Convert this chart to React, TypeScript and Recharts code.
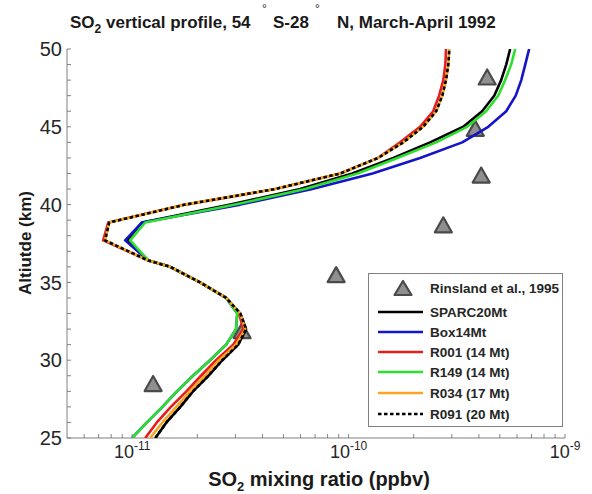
import React from 'react';
import { ScatterChart, Scatter, XAxis, YAxis, Legend } from 'recharts';

// Altitude levels (km)
const altitudes = [25, 26, 27, 28, 29, 30, 31, 32, 33, 34, 35, 36, 36.4, 37.7, 38.85, 40, 41, 42, 43, 44, 45, 46, 47, 48, 49, 50];

// SO2 mixing ratio (ppbv) per series at the altitude levels above
const sparc20Mt = [1.28e-11, 1.44e-11, 1.67e-11, 1.91e-11, 2.25e-11, 2.61e-11, 3.09e-11, 3.36e-11, 3.16e-11, 2.72e-11, 2.06e-11, 1.5e-11, 1.19e-11, 9.48e-12, 1.11e-11, 2.84e-11, 5.97e-11, 1.04e-10, 1.61e-10, 2.38e-10, 3.39e-10, 4.14e-10, 4.71e-10, 5.07e-10, 5.35e-10, 5.58e-10];
const box14Mt = [1.0e-11, 1.17e-11, 1.38e-11, 1.61e-11, 1.91e-11, 2.29e-11, 2.72e-11, 3.02e-11, 3.06e-11, 2.72e-11, 2.06e-11, 1.5e-11, 1.19e-11, 9.28e-12, 1.11e-11, 3.16e-11, 6.79e-11, 1.29e-10, 2.14e-10, 3.35e-10, 4.42e-10, 5.35e-10, 5.92e-10, 6.28e-10, 6.55e-10, 6.83e-10];
const r001 = [1.15e-11, 1.3e-11, 1.51e-11, 1.78e-11, 2.08e-11, 2.44e-11, 2.93e-11, 3.26e-11, 3.12e-11, 2.72e-11, 2.06e-11, 1.5e-11, 1.19e-11, 7.35e-12, 7.75e-12, 1.76e-11, 4.58e-11, 9.15e-11, 1.37e-10, 1.73e-10, 2.14e-10, 2.46e-10, 2.62e-10, 2.74e-10, 2.8e-10, 2.82e-10];
const r149 = [1.0e-11, 1.17e-11, 1.38e-11, 1.61e-11, 1.91e-11, 2.29e-11, 2.72e-11, 3.02e-11, 3.06e-11, 2.72e-11, 2.06e-11, 1.5e-11, 1.19e-11, 9.79e-12, 1.15e-11, 2.99e-11, 6.3e-11, 1.1e-10, 1.68e-10, 2.54e-10, 3.53e-10, 4.32e-10, 4.91e-10, 5.29e-10, 5.64e-10, 5.89e-10];
const r034 = [1.21e-11, 1.38e-11, 1.6e-11, 1.85e-11, 2.17e-11, 2.52e-11, 3.02e-11, 3.33e-11, 3.16e-11, 2.72e-11, 2.06e-11, 1.5e-11, 1.19e-11, 7.5e-12, 7.83e-12, 1.76e-11, 4.58e-11, 9.15e-11, 1.37e-10, 1.79e-10, 2.21e-10, 2.54e-10, 2.71e-10, 2.82e-10, 2.89e-10, 2.92e-10];
const r091 = [1.28e-11, 1.44e-11, 1.67e-11, 1.91e-11, 2.25e-11, 2.61e-11, 3.09e-11, 3.36e-11, 3.16e-11, 2.72e-11, 2.06e-11, 1.5e-11, 1.19e-11, 7.5e-12, 7.83e-12, 1.76e-11, 4.58e-11, 9.15e-11, 1.37e-10, 1.79e-10, 2.21e-10, 2.54e-10, 2.71e-10, 2.82e-10, 2.89e-10, 2.92e-10];

// Rinsland et al., 1995 observations
const rinslandAlt = [28.5, 31.9, 35.5, 38.7, 41.9, 44.9, 48.2];
const rinslandVal = [1.25e-11, 3.22e-11, 8.76e-11, 2.74e-10, 4.1e-10, 3.85e-10, 4.37e-10];

// Axis ticks
const xMajorTicks = [1e-11, 1e-10, 1e-9];
const xMajorExponents = ['-11', '-10', '-9'];
const xMinorTicks = [6e-12, 7e-12, 8e-12, 9e-12, 2e-11, 3e-11, 4e-11, 5e-11, 6e-11, 7e-11, 8e-11, 9e-11, 2e-10, 3e-10, 4e-10, 5e-10, 6e-10, 7e-10, 8e-10, 9e-10];
const xDomain = [5e-12, 1e-9];
const yMajorTicks = [25, 30, 35, 40, 45, 50];
const yMinorTicks = [26, 27, 28, 29, 31, 32, 33, 34, 36, 37, 38, 39, 41, 42, 43, 44, 46, 47, 48, 49];

const seriesDefs = [
  { name: 'SPARC20Mt', values: sparc20Mt, color: '#000000', dash: undefined as string | undefined },
  { name: 'Box14Mt', values: box14Mt, color: '#1414c8', dash: undefined },
  { name: 'R001 (14 Mt)', values: r001, color: '#e81c1c', dash: undefined },
  { name: 'R149 (14 Mt)', values: r149, color: '#2ee02e', dash: undefined },
  { name: 'R034 (17 Mt)', values: r034, color: '#f5a623', dash: undefined },
  { name: 'R091 (20 Mt)', values: r091, color: '#000000', dash: '3.5 2.5' },
];

const FONT = '"Liberation Sans", Arial, Helvetica, sans-serif';
const AXIS = '#808080';
const TXT = '#262626';

const xAll = [...xMinorTicks, ...xMajorTicks].sort((a, b) => a - b);
const yAll = [...yMinorTicks, ...yMajorTicks].sort((a, b) => a - b);

const majorIndexX = (v: number) => xMajorTicks.findIndex((m) => Math.abs(m - v) / m < 1e-6);

const BottomTick = (props: any) => {
  const { x, y, payload } = props;
  const idx = majorIndexX(payload.value);
  return (
    <g>
      <line x1={x} y1={y} x2={x} y2={y - 4} stroke={AXIS} strokeWidth={1} />
      {idx >= 0 && (
        <text x={x} y={y + 20} textAnchor="middle" fontFamily={FONT} fontSize={18} fill={TXT}>
          10
          <tspan dy={-8} fontSize={12}>{xMajorExponents[idx]}</tspan>
        </text>
      )}
    </g>
  );
};

const TopTick = (props: any) => {
  const { x, y } = props;
  return <line x1={x} y1={y} x2={x} y2={y + 4} stroke={AXIS} strokeWidth={1} />;
};

const LeftTick = (props: any) => {
  const { x, y, payload } = props;
  const major = yMajorTicks.includes(payload.value);
  return (
    <g>
      <line x1={x} y1={y} x2={x + 4} y2={y} stroke={AXIS} strokeWidth={1} />
      {major && (
        <text x={x - 5} y={y} dy="0.36em" textAnchor="end" fontFamily={FONT} fontSize={20} fill={TXT}>
          {payload.value}
        </text>
      )}
    </g>
  );
};

const RightTick = (props: any) => {
  const { x, y } = props;
  return <line x1={x} y1={y} x2={x - 4} y2={y} stroke={AXIS} strokeWidth={1} />;
};

const NoShape = () => <g />;

const Triangle = (props: any) => {
  const { cx, cy } = props;
  if (cx == null || cy == null) return <g />;
  const w = 17;
  const h = 15;
  return (
    <polygon
      points={`${cx - w / 2},${cy + h / 2} ${cx + w / 2},${cy + h / 2} ${cx},${cy - h / 2}`}
      fill="#8f8f8f"
      stroke="#4a4a4a"
      strokeWidth={2.2}
      strokeLinejoin="round"
    />
  );
};

const LegendBox = () => {
  const rows = [39, 59, 79, 99, 120, 141];
  return (
    <svg width={196} height={156} style={{ display: 'block' }}>
      <rect x={0.5} y={0.5} width={194} height={153} fill="#ffffff" stroke={AXIS} strokeWidth={1} />
      <polygon points="26.5,22 43.5,22 35,8" fill="#8f8f8f" stroke="#4a4a4a" strokeWidth={2.2} strokeLinejoin="round" />
      <text x={62} y={15} dy="0.36em" fontFamily={FONT} fontWeight="bold" fontSize={13.5} fill={TXT}>
        Rinsland et al., 1995
      </text>
      {seriesDefs.map((s, i) => (
        <g key={s.name}>
          <line x1={10} x2={55} y1={rows[i]} y2={rows[i]} stroke={s.color} strokeWidth={2.5} strokeDasharray={s.dash} />
          <text x={62} y={rows[i]} dy="0.36em" fontFamily={FONT} fontWeight="bold" fontSize={13.5} fill={TXT}>
            {s.name}
          </text>
        </g>
      ))}
    </svg>
  );
};

export default function App() {
  const rinsland = rinslandAlt.map((a, i) => ({ x: rinslandVal[i], y: a }));
  const series = seriesDefs.map((s) => ({
    ...s,
    data: altitudes.map((a, i) => ({ x: s.values[i], y: a })),
  }));

  return (
    <div style={{ position: 'absolute', left: 0, top: 0, width: 592, height: 494, background: '#ffffff' }}>
      <ScatterChart width={592} height={494} margin={{ top: 49, right: 27, bottom: 0, left: 0 }}>
        <XAxis
          xAxisId="b"
          type="number"
          dataKey="x"
          scale="log"
          domain={xDomain}
          allowDataOverflow
          ticks={xAll}
          interval={0}
          orientation="bottom"
          height={56}
          tickSize={0}
          tickMargin={0}
          tickLine={false}
          axisLine={{ stroke: AXIS }}
          tick={<BottomTick />}
        />
        <XAxis
          xAxisId="t"
          type="number"
          dataKey="x"
          scale="log"
          domain={xDomain}
          allowDataOverflow
          ticks={xAll}
          interval={0}
          orientation="top"
          height={0}
          tickSize={0}
          tickMargin={0}
          tickLine={false}
          axisLine={{ stroke: AXIS }}
          tick={<TopTick />}
        />
        <YAxis
          yAxisId="l"
          type="number"
          dataKey="y"
          domain={[25, 50]}
          allowDataOverflow
          ticks={yAll}
          interval={0}
          orientation="left"
          width={67}
          tickSize={0}
          tickMargin={0}
          tickLine={false}
          axisLine={{ stroke: AXIS }}
          tick={<LeftTick />}
        />
        <YAxis
          yAxisId="r"
          type="number"
          dataKey="y"
          domain={[25, 50]}
          allowDataOverflow
          ticks={yAll}
          interval={0}
          orientation="right"
          width={0}
          tickSize={0}
          tickMargin={0}
          tickLine={false}
          axisLine={{ stroke: AXIS }}
          tick={<RightTick />}
        />
        <Scatter
          name="Rinsland et al., 1995"
          xAxisId="b"
          yAxisId="l"
          data={rinsland}
          shape={<Triangle />}
          isAnimationActive={false}
        />
        {series.map((s) => (
          <Scatter
            key={s.name}
            name={s.name}
            xAxisId="b"
            yAxisId="l"
            data={s.data}
            shape={<NoShape />}
            line={{ stroke: s.color, strokeWidth: 2.6, strokeDasharray: s.dash, strokeLinejoin: 'round' }}
            lineType="joint"
            isAnimationActive={false}
          />
        ))}
        <Legend
          layout="vertical"
          align="center"
          verticalAlign="middle"
          wrapperStyle={{ left: 368, top: 273, width: 196, height: 156 }}
          content={() => <LegendBox />}
        />
      </ScatterChart>
      <svg
        width={592}
        height={494}
        style={{ position: 'absolute', left: 0, top: 0, pointerEvents: 'none' }}
      >
        <g fontFamily={FONT} fontWeight="bold" fill="#1a1a1a">
          <text y={28} fontSize={17}>
            <tspan x={70}>SO</tspan>
            <tspan dy={5} fontSize={12}>2</tspan>
            <tspan dy={-5}> vertical profile, 54</tspan>
          </text>
          <text x={262} y={13} fontSize={12} fontWeight="normal" fill="#1a1a1a">°</text>
          <text x={273} y={28} fontSize={17}>S-28</text>
          <text x={315} y={13} fontSize={12} fontWeight="normal" fill="#1a1a1a">°</text>
          <text x={337} y={28} fontSize={17}>N, March-April 1992</text>
          <text x={319} y={486} fontSize={20} textAnchor="middle">
            SO
            <tspan dy={5} fontSize={13}>2</tspan>
            <tspan dy={-5}> mixing ratio (ppbv)</tspan>
          </text>
          <text transform="translate(31, 243) rotate(-90)" textAnchor="middle" fontSize={17}>
            Altiutde (km)
          </text>
        </g>
      </svg>
    </div>
  );
}
